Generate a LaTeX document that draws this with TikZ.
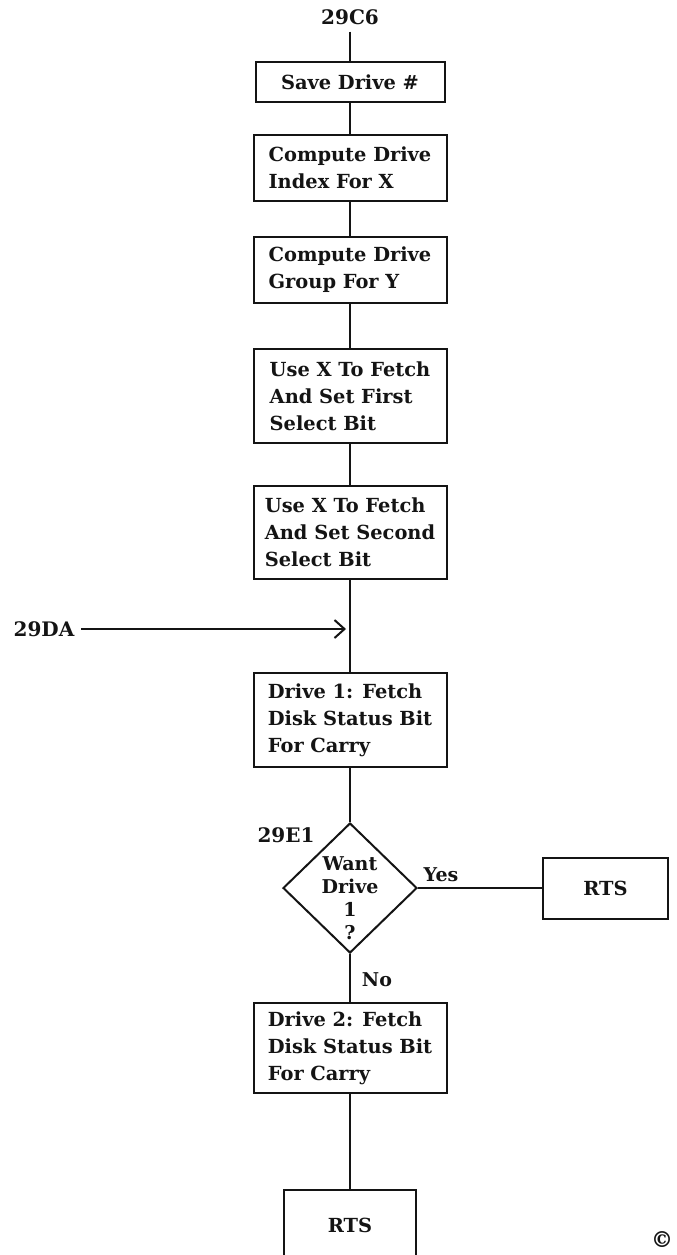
\documentclass[tikz,border=0pt]{standalone}
\usepackage{fontspec}
\setmainfont{DejaVu Serif}
\usetikzlibrary{
    arrows.meta,
    positioning,
    shapes.geometric
}
\definecolor{ink}{RGB}{20,20,20}
\tikzset{
    line cap=round,
    line join=round,
    stepbox/.style={
        rectangle,
        draw=ink,
        line width=1pt,
        fill=white,
        text=ink,
        minimum width=96.5pt,
        align=left,
        inner sep=0pt,
        font=\bfseries\fontsize{9.7}{13.5}\selectfont
    },
    decision/.style={
        diamond,
        draw=ink,
        line width=1pt,
        fill=white,
        aspect=1,
        minimum width=67pt,
        minimum height=65pt,
        inner sep=0pt
    },
    decisiontext/.style={
        align=center,
        text=ink,
        inner sep=0pt,
        font=\bfseries\fontsize{9.5}{11.5}\selectfont
    },
    entry/.style={
        text=ink,
        font=\bfseries\fontsize{10}{12}\selectfont
    },
    branch/.style={
        text=ink,
        font=\bfseries\fontsize{9.5}{12}\selectfont
    },
    flowline/.style={
        draw=ink,
        line width=1pt
    },
    flowarrow/.style={
        flowline,
        -{Straight Barb[length=5pt, width=9pt]}
    }
}

\begin{document}
\begin{tikzpicture}[x=0.5pt, y=-0.5pt]
\useasboundingbox (0,0) rectangle (676,1255);

% Main column
\node[entry] (c6) at (350, 17) {29C6};
\node[stepbox, minimum width=94.5pt, minimum height=20pt] (save) at (350, 82) {Save Drive \#};
\node[stepbox, minimum height=33pt] (index) at (350, 168) {Compute Drive\\Index For X};
\node[stepbox, minimum height=33pt] (group) at (350, 270) {Compute Drive\\Group For Y};
\node[stepbox, minimum height=47pt] (first) at (350, 396) {Use X To Fetch\\And Set First\\Select Bit};
\node[stepbox, minimum height=46.5pt] (second) at (350, 532.5) {Use X To Fetch\\And Set Second\\Select Bit};
\node[stepbox, minimum height=47pt] (drive1) at (350, 720) {Drive 1: Fetch\\Disk Status Bit\\For Carry};

% Decision
\node[decision] (want) at (350, 888) {};
\node[decisiontext] (wanttext) at (350, 898) {Want\\Drive\\1\\?};
\node[entry] (e1) at (286, 835) {29E1};
\node[stepbox, minimum width=62.5pt, minimum height=30.5pt] (rtsyes) at (605.5, 888) {RTS};
\node[branch] (yes) at (441, 875) {Yes};
\node[branch] (no) at (377, 980) {No};

\node[stepbox, minimum height=45pt] (drive2) at (350, 1048) {Drive 2: Fetch\\Disk Status Bit\\For Carry};
\node[stepbox, minimum width=66pt, minimum height=35pt] (rtsno) at (350, 1225) {RTS};

% Second entry point
\node[entry] (da) at (44, 629) {29DA};
\coordinate (join) at (350, 629);

% Connectors
\draw[flowline] (c6) -- (save);
\draw[flowline] (save) -- (index);
\draw[flowline] (index) -- (group);
\draw[flowline] (group) -- (first);
\draw[flowline] (first) -- (second);
\draw[flowline] (second) -- (drive1);
\draw[flowarrow, shorten >=2pt] (da) -- (join);
\draw[flowline] (drive1) -- (want);
\draw[flowline] (want) -- (rtsyes);
\draw[flowline] (want) -- (drive2);
\draw[flowline] (drive2) -- (rtsno);

\node[text=ink, inner sep=0pt, font=\bfseries\fontsize{11}{11}\selectfont] (copy) at (662, 1240) {©};
\end{tikzpicture}
\end{document}
